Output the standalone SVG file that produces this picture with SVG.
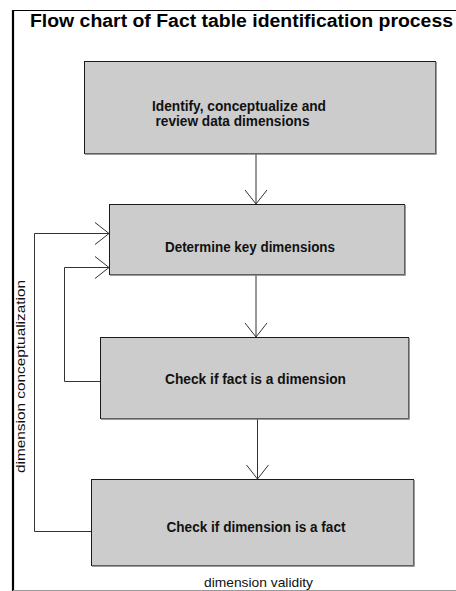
<svg xmlns="http://www.w3.org/2000/svg" width="456" height="591" viewBox="0 0 456 591">
  <defs>
    <style>
      .box { fill: #cccccc; stroke: #1a1a1a; stroke-width: 1; }
      .shade { fill: none; stroke: #7a7a7a; stroke-width: 1.5; }
      .lbl { font-family: "Liberation Sans", Arial, sans-serif; font-weight: bold; font-size: 14px; fill: #111; }
      .note { font-family: "Liberation Sans", Arial, sans-serif; font-size: 13.5px; fill: #111; }
      .title { font-family: "Liberation Sans", Arial, sans-serif; font-weight: bold; font-size: 17.5px; fill: #000; }
      .conn { fill: none; stroke: #333; stroke-width: 1; }
    </style>
    <marker id="vee" viewBox="0 0 14 24" refX="14" refY="12" markerWidth="14" markerHeight="24" markerUnits="userSpaceOnUse" orient="auto">
      <path d="M0,1 L14,12 L0,23" fill="none" stroke="#333" stroke-width="1"/>
    </marker>
  </defs>

  <!-- frame -->
  <rect x="0" y="0" width="456" height="591" fill="#ffffff"/>
  <line x1="12" y1="10.5" x2="456" y2="10.5" stroke="#000" stroke-width="1"/>
  <line x1="13" y1="10" x2="13" y2="591" stroke="#000" stroke-width="2.2"/>
  <line x1="13" y1="590.5" x2="456" y2="590.5" stroke="#999" stroke-width="1"/>

  <text class="title" x="30" y="27" textLength="423" lengthAdjust="spacingAndGlyphs">Flow chart of Fact table identification process</text>

  <!-- connectors -->
  <g id="connectors">
    <line class="conn" x1="256" y1="154" x2="256" y2="204" marker-end="url(#vee)"/>
    <line class="conn" x1="256" y1="275" x2="256" y2="337" marker-end="url(#vee)"/>
    <line class="conn" x1="257.5" y1="419" x2="257.5" y2="479" marker-end="url(#vee)"/>
    <polyline class="conn" points="100,381.5 64.5,381.5 64.5,267.5 109,267.5" marker-end="url(#vee)"/>
    <polyline class="conn" points="91,531.5 34.5,531.5 34.5,233.5 109,233.5" marker-end="url(#vee)"/>
  </g>

  <!-- process steps -->
  <g id="identify">
    <rect class="box" x="84.5" y="61.5" width="351" height="92"/>
    <polyline class="shade" points="436,62 436,154 85,154"/>
    <text class="lbl" x="152" y="111" textLength="174" lengthAdjust="spacingAndGlyphs">Identify, conceptualize and</text>
    <text class="lbl" x="155.5" y="126" textLength="154" lengthAdjust="spacingAndGlyphs">review data dimensions</text>
  </g>

  <g id="determine">
    <rect class="box" x="109.5" y="204.5" width="295" height="70"/>
    <polyline class="shade" points="405,205 405,275 110,275"/>
    <text class="lbl" x="165" y="252" textLength="170" lengthAdjust="spacingAndGlyphs">Determine key dimensions</text>
  </g>

  <g id="check-fact">
    <rect class="box" x="100.5" y="337.5" width="308" height="81"/>
    <polyline class="shade" points="409,338 409,419 101,419"/>
    <text class="lbl" x="165" y="384" textLength="181" lengthAdjust="spacingAndGlyphs">Check if fact is a dimension</text>
  </g>

  <g id="check-dimension">
    <rect class="box" x="91.5" y="479.5" width="322" height="86"/>
    <polyline class="shade" points="414,480 414,566 92,566"/>
    <text class="lbl" x="166.5" y="532" textLength="179" lengthAdjust="spacingAndGlyphs">Check if dimension is a fact</text>
  </g>

  <!-- loop labels -->
  <text class="note" transform="translate(25,376.5) rotate(-90)" text-anchor="middle" textLength="193" lengthAdjust="spacingAndGlyphs">dimension conceptualization</text>
  <text class="note" x="258.5" y="587" text-anchor="middle" textLength="109" lengthAdjust="spacingAndGlyphs">dimension validity</text>
</svg>
